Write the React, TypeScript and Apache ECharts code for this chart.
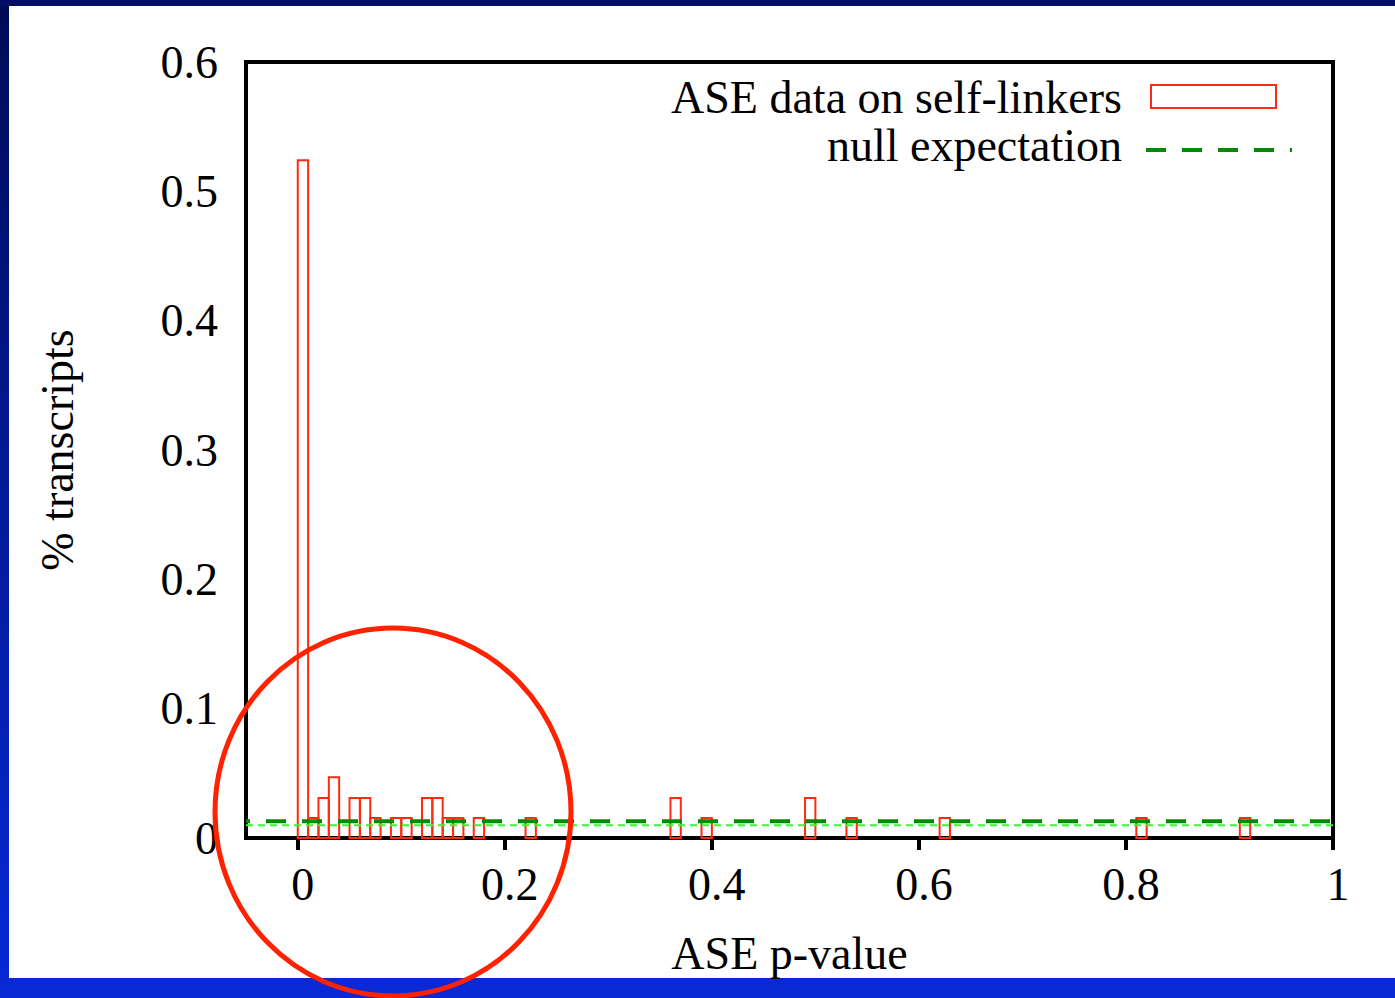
import React, { useEffect, useRef } from "react";
import * as echarts from "echarts";

// ---- data ----
const binWidth = 0.01;
const binLower = [0, 0.01, 0.02, 0.03, 0.05, 0.06, 0.07, 0.09, 0.1, 0.12, 0.13, 0.14, 0.15, 0.17, 0.22, 0.36, 0.39, 0.49, 0.53, 0.62, 0.81, 0.91];
const binValue = [0.524, 0.0155, 0.031, 0.047, 0.031, 0.031, 0.0155, 0.0155, 0.0155, 0.031, 0.031, 0.0155, 0.0155, 0.0155, 0.0155, 0.031, 0.0155, 0.031, 0.0155, 0.0155, 0.0155, 0.0155];
const nullExpectation = 0.013;
const uniformLevel = 0.0098;
const xTicks = [0, 0.2, 0.4, 0.6, 0.8, 1];
const yTicks = [0, 0.1, 0.2, 0.3, 0.4, 0.5, 0.6];
const xRange = [-0.05, 1];
const seriesNames = ["ASE data on self-linkers", "null expectation"];
const xTitle = "ASE p-value";
const yTitle = "% transcripts";

const FONT = '"Liberation Serif", "DejaVu Serif", serif';
const RED = "#ff2a12";
const DKGREEN = "#008a00";
const LTGREEN = "#3cf03c";

export default function App() {
  const ref = useRef<HTMLDivElement>(null);
  useEffect(() => {
    if (!ref.current) return;
    const chart = echarts.init(ref.current, undefined, { renderer: "svg" });
    const fmtX = (v: number) => (v === 0 ? "0" : v === 1 ? "1" : v.toFixed(1));
    const fmtY = (v: number) => (v === 0 ? "0" : v.toFixed(1));
    const tickStyle = { show: true, inside: true, length: 12, lineStyle: { color: "#000", width: 4 } };
    const option: any = {
      animation: false,
      backgroundColor: "#ffffff",
      grid: { left: 246, right: 62, top: 62, bottom: 160, show: true, borderColor: "#000", borderWidth: 4, backgroundColor: "#fff", z: 1 },
      xAxis: [
        {
          type: "value", min: xRange[0], max: xRange[1], position: "bottom",
          splitLine: { show: false }, axisLine: { show: false },
          axisTick: { ...tickStyle, customValues: xTicks },
          axisLabel: { customValues: xTicks, formatter: fmtX, fontFamily: FONT, fontSize: 46, color: "#000", margin: 23, padding: [0, 0, 0, 10] },
          name: xTitle, nameLocation: "middle", nameGap: 92,
          nameTextStyle: { fontFamily: FONT, fontSize: 46, color: "#000" },
        },
        {
          type: "value", min: xRange[0], max: xRange[1], position: "top",
          splitLine: { show: false }, axisLine: { show: false },
          axisTick: { ...tickStyle, customValues: xTicks },
          axisLabel: { show: false },
        },
      ],
      yAxis: [
        {
          type: "value", min: 0, max: 0.6, interval: 0.1, position: "left",
          splitLine: { show: false }, axisLine: { show: false },
          axisTick: { ...tickStyle, customValues: yTicks },
          axisLabel: { customValues: yTicks, formatter: fmtY, fontFamily: FONT, fontSize: 46, color: "#000", margin: 28 },
          name: yTitle, nameLocation: "middle", nameGap: 166, nameRotate: 90,
          nameTextStyle: { fontFamily: FONT, fontSize: 46, color: "#000" },
        },
        {
          type: "value", min: 0, max: 0.6, interval: 0.1, position: "right",
          splitLine: { show: false }, axisLine: { show: false },
          axisTick: { ...tickStyle, customValues: yTicks },
          axisLabel: { show: false },
        },
      ],
      series: [
        {
          name: seriesNames[0],
          type: "custom",
          xAxisIndex: 0, yAxisIndex: 0,
          data: binLower.map((x, i) => [x, x + binWidth, binValue[i]]),
          encode: { x: [0, 1], y: 2 },
          renderItem: (params: any, api: any) => {
            const p0 = api.coord([api.value(0), api.value(2)]);
            const p1 = api.coord([api.value(1), 0]);
            return {
              type: "rect",
              shape: { x: p0[0], y: p0[1], width: p1[0] - p0[0], height: p1[1] - p0[1] },
              style: { fill: "none", stroke: RED, lineWidth: 2 },
            };
          },
          z: 3,
        },
        {
          name: "uniform",
          type: "line",
          data: [[xRange[0], uniformLevel], [xRange[1], uniformLevel]],
          symbol: "none",
          lineStyle: { color: LTGREEN, width: 2, type: [7, 5] },
          z: 4,
        },
        {
          name: seriesNames[1],
          type: "line",
          data: [[xRange[0], nullExpectation], [xRange[1], nullExpectation]],
          symbol: "none",
          lineStyle: { color: DKGREEN, width: 4, type: [20, 16], dashOffset: 16 },
          z: 5,
        },
      ],
      graphic: [
        { type: "rect", z: -10, shape: { x: 0, y: 0, width: 9, height: 998 },
          style: { fill: new echarts.graphic.LinearGradient(0, 0, 0, 1, [{ offset: 0, color: "#000b55" }, { offset: 1, color: "#0629d8" }]) } },
        { type: "rect", z: -10, shape: { x: 0, y: 0, width: 1395, height: 6 }, style: { fill: "#000e66" } },
        { type: "rect", z: -10, shape: { x: 0, y: 978, width: 1395, height: 20 }, style: { fill: "#0a28d4" } },
        // legend
        { type: "text", z: 10, x: 1122, y: 97, style: { text: seriesNames[0], fill: "#000", font: `46px ${FONT}`, align: "right", verticalAlign: "middle" } },
        { type: "rect", z: 10, shape: { x: 1151, y: 85, width: 125, height: 23 }, style: { fill: "none", stroke: RED, lineWidth: 2 } },
        { type: "text", z: 10, x: 1122, y: 145, style: { text: seriesNames[1], fill: "#000", font: `46px ${FONT}`, align: "right", verticalAlign: "middle" } },
        { type: "line", z: 10, shape: { x1: 1146, y1: 150, x2: 1292, y2: 150 }, style: { stroke: DKGREEN, lineWidth: 4, lineDash: [20, 16] } },
        // annotation circle
        { type: "ellipse", z: 20, shape: { cx: 393, cy: 812, rx: 178, ry: 184 }, style: { fill: "none", stroke: "#ff2200", lineWidth: 5 } },
      ],
    };
    chart.setOption(option);
    return () => chart.dispose();
  }, []);
  return <div ref={ref} style={{ position: "fixed", left: 0, top: 0, width: 1395, height: 998 }} />;
}
